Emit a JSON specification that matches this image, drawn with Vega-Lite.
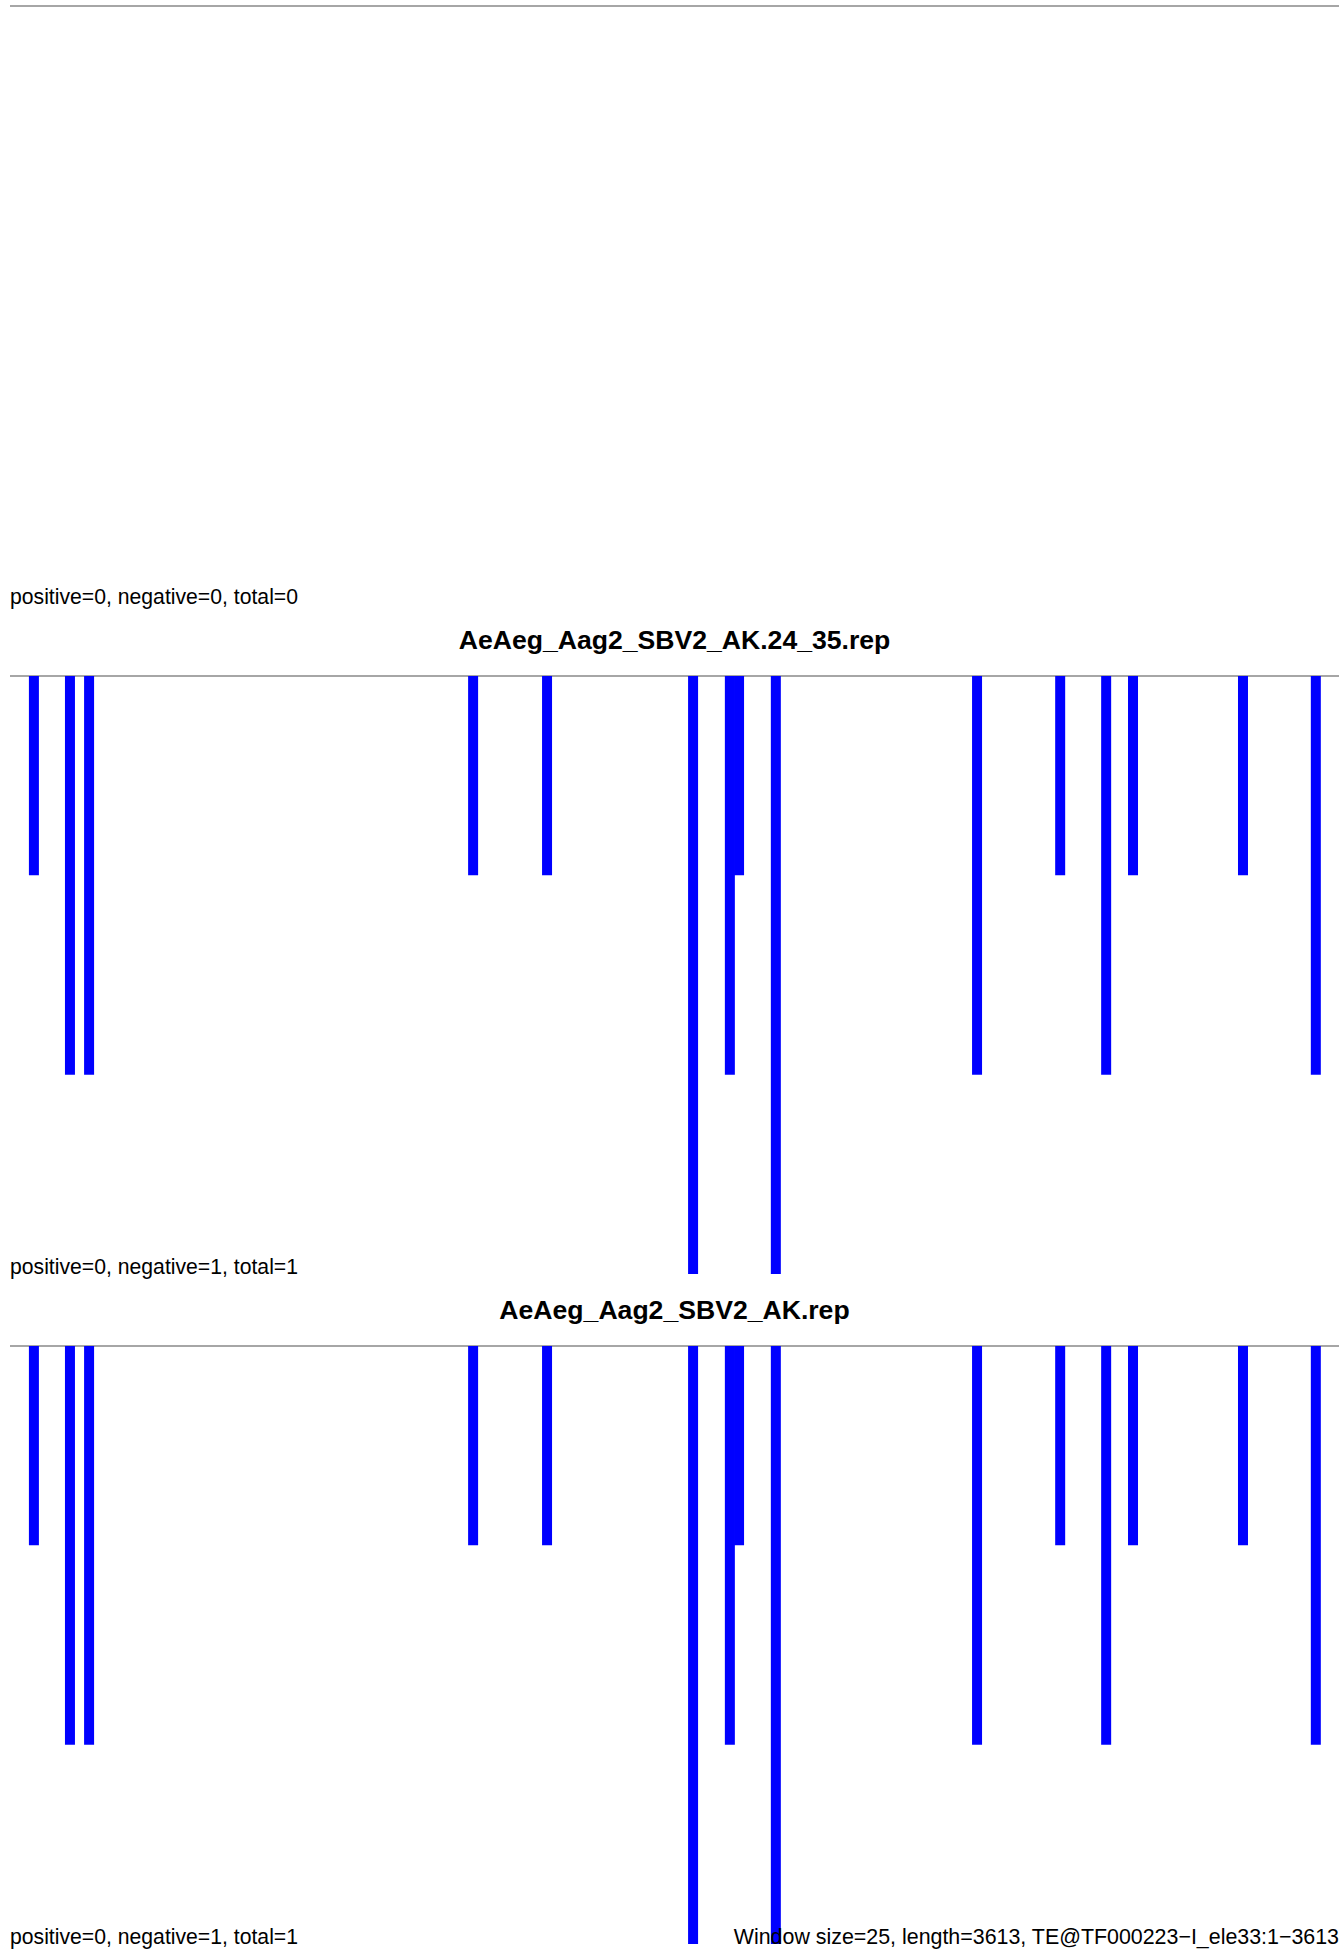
{
  "$schema": "https://vega.github.io/schema/vega-lite/v6.json",
  "padding": {"left": 9, "top": 5, "right": 0, "bottom": 0},
  "background": "white",
  "bounds": "flush",
  "spacing": 72,
  "config": {"view": {"stroke": null}},
  "datasets": {
    "one": [{"k": 1}],
    "bars": [
      {"pos": 65, "value": -1},
      {"pos": 163, "value": -2},
      {"pos": 215, "value": -2},
      {"pos": 1259, "value": -1},
      {"pos": 1460, "value": -1},
      {"pos": 1857, "value": -3},
      {"pos": 1957, "value": -2},
      {"pos": 1982, "value": -1},
      {"pos": 2082, "value": -3},
      {"pos": 2629, "value": -2},
      {"pos": 2855, "value": -1},
      {"pos": 2980, "value": -2},
      {"pos": 3053, "value": -1},
      {"pos": 3352, "value": -1},
      {"pos": 3550, "value": -2}
    ]
  },
  "vconcat": [
    {
      "width": 1329,
      "height": 598,
      "data": {"name": "one"},
      "layer": [
        {
          "mark": {"type": "rule", "color": "#888888", "strokeWidth": 1.3},
          "encoding": {
            "y": {"datum": 0, "type": "quantitative", "scale": {"domain": [-3, 0], "nice": false, "zero": false}, "axis": null}
          }
        },
        {
          "mark": {"type": "text", "align": "left", "baseline": "alphabetic", "font": "Liberation Sans", "fontSize": 21.2, "color": "black", "text": "positive=0, negative=0, total=0"},
          "encoding": {
            "x": {"datum": 0, "type": "quantitative", "scale": {"domain": [0, 3613], "nice": false, "zero": false, "padding": 0}, "axis": null},
            "y": {"datum": -3, "type": "quantitative", "axis": null}
          }
        }
      ]
    },
    {
      "width": 1329,
      "height": 598,
      "data": {"name": "one"},
      "title": {"text": "AeAeg_Aag2_SBV2_AK.24_35.rep", "font": "Liberation Sans", "fontSize": 26.6, "fontWeight": "bold", "color": "black", "anchor": "middle", "frame": "group", "baseline": "alphabetic", "offset": 0},
      "layer": [
        {
          "mark": {"type": "rule", "color": "#888888", "strokeWidth": 1.3},
          "encoding": {
            "y": {"datum": 0, "type": "quantitative", "scale": {"domain": [-3, 0], "nice": false, "zero": false}, "axis": null}
          }
        },
        {
          "data": {"name": "bars"},
          "mark": {"type": "bar", "color": "#0000ff", "width": 10},
          "encoding": {
            "x": {"field": "pos", "type": "quantitative", "scale": {"domain": [0, 3613], "nice": false, "zero": false, "padding": 0}, "axis": null},
            "y": {"field": "value", "type": "quantitative", "axis": null}
          }
        },
        {
          "mark": {"type": "text", "align": "left", "baseline": "alphabetic", "font": "Liberation Sans", "fontSize": 21.2, "color": "black", "text": "positive=0, negative=1, total=1"},
          "encoding": {
            "x": {"datum": 0, "type": "quantitative", "axis": null},
            "y": {"datum": -3, "type": "quantitative", "axis": null}
          }
        }
      ]
    },
    {
      "width": 1329,
      "height": 598,
      "data": {"name": "one"},
      "title": {"text": "AeAeg_Aag2_SBV2_AK.rep", "font": "Liberation Sans", "fontSize": 26.6, "fontWeight": "bold", "color": "black", "anchor": "middle", "frame": "group", "baseline": "alphabetic", "offset": 0},
      "layer": [
        {
          "mark": {"type": "rule", "color": "#888888", "strokeWidth": 1.3},
          "encoding": {
            "y": {"datum": 0, "type": "quantitative", "scale": {"domain": [-3, 0], "nice": false, "zero": false}, "axis": null}
          }
        },
        {
          "data": {"name": "bars"},
          "mark": {"type": "bar", "color": "#0000ff", "width": 10},
          "encoding": {
            "x": {"field": "pos", "type": "quantitative", "scale": {"domain": [0, 3613], "nice": false, "zero": false, "padding": 0}, "axis": null},
            "y": {"field": "value", "type": "quantitative", "axis": null}
          }
        },
        {
          "mark": {"type": "text", "align": "left", "baseline": "alphabetic", "font": "Liberation Sans", "fontSize": 21.2, "color": "black", "text": "positive=0, negative=1, total=1"},
          "encoding": {
            "x": {"datum": 0, "type": "quantitative", "axis": null},
            "y": {"datum": -3, "type": "quantitative", "axis": null}
          }
        },
        {
          "mark": {"type": "text", "align": "right", "baseline": "alphabetic", "font": "Liberation Sans", "fontSize": 21.4, "color": "black", "text": "Window size=25, length=3613, TE@TF000223−I_ele33:1−3613"},
          "encoding": {
            "x": {"datum": 3613, "type": "quantitative", "axis": null},
            "y": {"datum": -3, "type": "quantitative", "axis": null}
          }
        }
      ]
    }
  ]
}
